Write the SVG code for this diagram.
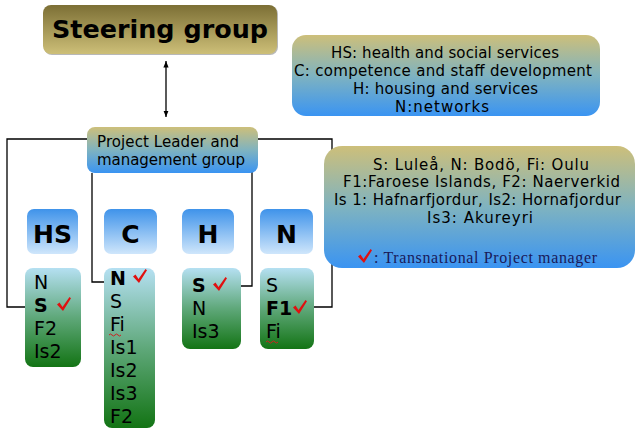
<svg xmlns="http://www.w3.org/2000/svg" width="636" height="432" viewBox="0 0 636 432">
<defs>
<linearGradient id="gOlive" x1="0" y1="0" x2="0" y2="1"><stop offset="0" stop-color="#7c6f35"/><stop offset="1" stop-color="#cdbf78"/></linearGradient>
<linearGradient id="gKB" x1="0" y1="0" x2="0" y2="1"><stop offset="0" stop-color="#cdbf7a"/><stop offset="0.5" stop-color="#7fb3c0"/><stop offset="1" stop-color="#3a94f2"/></linearGradient>
<linearGradient id="gBlue" x1="0" y1="0" x2="0" y2="1"><stop offset="0" stop-color="#3f93ea"/><stop offset="1" stop-color="#cfe6fb"/></linearGradient>
<linearGradient id="gGreen" x1="0" y1="0" x2="0" y2="1"><stop offset="0" stop-color="#b5e0f2"/><stop offset="0.5" stop-color="#5fa87a"/><stop offset="1" stop-color="#137414"/></linearGradient>
<marker id="ah" viewBox="0 0 10 10" refX="10" refY="5" markerWidth="5" markerHeight="5" orient="auto-start-reverse"><path d="M0,1 L10,5 L0,9 z" fill="#000"/></marker>
<path id="chk" d="M0,7.5 L2.5,5.5 L5.5,10 L12.5,0 L14,1.3 L6,14 Z" fill="#e01010"/>
</defs>
<style>
.t{font-family:"DejaVu Sans",Verdana,sans-serif;fill:#000}
.leg{font-size:15px}
.cat{font-size:25px;font-weight:bold}
.li{font-size:19px}
.b{font-weight:bold}
.ln{fill:none;stroke:#000;stroke-width:1.3}
.wav{fill:none;stroke:#d02020;stroke-width:1}
.sh{fill:#333;opacity:0.35}
</style>
<rect width="636" height="432" fill="#fff"/>
<g id="connectors">
<line class="ln" x1="166" y1="61" x2="166" y2="117" marker-start="url(#ah)" marker-end="url(#ah)"/>
<path class="ln" d="M87,139 H7 V307 H25"/>
<path class="ln" d="M258,139 H332 V307 H314"/>
<path class="ln" d="M92,173 V282 H104"/>
<path class="ln" d="M233,171 H252 V286 H233"/>
</g>
<g id="steering">
<rect class="sh" x="44" y="6" width="234" height="49" rx="8"/>
<rect x="43" y="5" width="234" height="49" rx="8" fill="url(#gOlive)"/>
<text class="t b" x="52" y="38" font-size="24" textLength="216" lengthAdjust="spacingAndGlyphs">Steering group</text>
</g>
<g id="legend">
<rect x="292" y="35" width="308" height="81" rx="14" fill="url(#gKB)"/>
<text class="t leg"><tspan x="331" y="58" textLength="228">HS: health and social services</tspan><tspan x="294" y="76" textLength="298">C: competence and staff development</tspan><tspan x="353" y="94" textLength="185">H: housing and services</tspan><tspan x="395" y="112" textLength="94">N:networks</tspan></text>
</g>
<g id="project-leader">
<rect x="87" y="127" width="171" height="46" rx="8" fill="url(#gKB)"/>
<text class="t leg"><tspan x="97" y="147" textLength="142">Project Leader and</tspan><tspan x="97" y="165" textLength="148">management group</tspan></text>
</g>
<g id="cat-HS"><rect x="27" y="209" width="51" height="45" rx="7" fill="url(#gBlue)"/><text class="t cat" x="52.5" y="243" text-anchor="middle">HS</text></g>
<g id="cat-C"><rect x="104" y="209" width="53" height="45" rx="7" fill="url(#gBlue)"/><text class="t cat" x="130.5" y="243" text-anchor="middle">C</text></g>
<g id="cat-H"><rect x="182" y="209" width="52" height="45" rx="7" fill="url(#gBlue)"/><text class="t cat" x="208" y="243" text-anchor="middle">H</text></g>
<g id="cat-N"><rect x="260" y="209" width="53" height="45" rx="7" fill="url(#gBlue)"/><text class="t cat" x="286.5" y="243" text-anchor="middle">N</text></g>
<g id="list-HS">
<rect x="25" y="268" width="56" height="99" rx="8" fill="url(#gGreen)"/>
<text class="t li"><tspan x="34" y="289">N</tspan><tspan x="34" y="312" class="b">S</tspan><tspan x="34" y="335">F2</tspan><tspan x="34" y="358">Is2</tspan></text>
<use href="#chk" x="57" y="297"/>
</g>
<g id="list-C">
<rect x="104" y="268" width="51" height="160" rx="8" fill="url(#gGreen)"/>
<text class="t li"><tspan x="110" y="285" class="b">N</tspan><tspan x="110" y="308">S</tspan><tspan x="110" y="331">Fi</tspan><tspan x="110" y="354">Is1</tspan><tspan x="110" y="377">Is2</tspan><tspan x="110" y="400">Is3</tspan><tspan x="110" y="423">F2</tspan></text>
<use href="#chk" x="133" y="269"/>
<path class="wav" d="M109,335 q1.5,-2 3,0 t3,0 t3,0 t3,0"/>
</g>
<g id="list-H">
<rect x="182" y="268" width="59" height="81" rx="8" fill="url(#gGreen)"/>
<text class="t li"><tspan x="192" y="292" class="b">S</tspan><tspan x="192" y="315">N</tspan><tspan x="192" y="338">Is3</tspan></text>
<use href="#chk" x="213" y="277"/>
</g>
<g id="list-N">
<rect x="260" y="268" width="54" height="81" rx="8" fill="url(#gGreen)"/>
<text class="t li"><tspan x="266" y="292">S</tspan><tspan x="266" y="315" class="b">F1</tspan><tspan x="266" y="338">Fi</tspan></text>
<use href="#chk" x="293" y="300"/>
<path class="wav" d="M266,342 q1.5,-2 3,0 t3,0 t3,0 t3,0"/>
</g>
<g id="locations">
<rect x="324" y="146" width="311" height="122" rx="18" fill="url(#gKB)"/>
<text class="t leg"><tspan x="373" y="170" textLength="216">S: Luleå, N: Bodö, Fi: Oulu</tspan><tspan x="343" y="187" textLength="277">F1:Faroese Islands, F2: Naerverkid</tspan><tspan x="334" y="205" textLength="287">Is 1: Hafnarfjordur, Is2: Hornafjordur</tspan><tspan x="427" y="223" textLength="106">Is3: Akureyri</tspan></text>
<use href="#chk" x="358" y="249"/>
<text x="374" y="263" font-family="'Liberation Serif','Times New Roman',serif" font-size="16" fill="#1a1a5a" textLength="223">: Transnational Project manager</text>
</g>
</svg>
